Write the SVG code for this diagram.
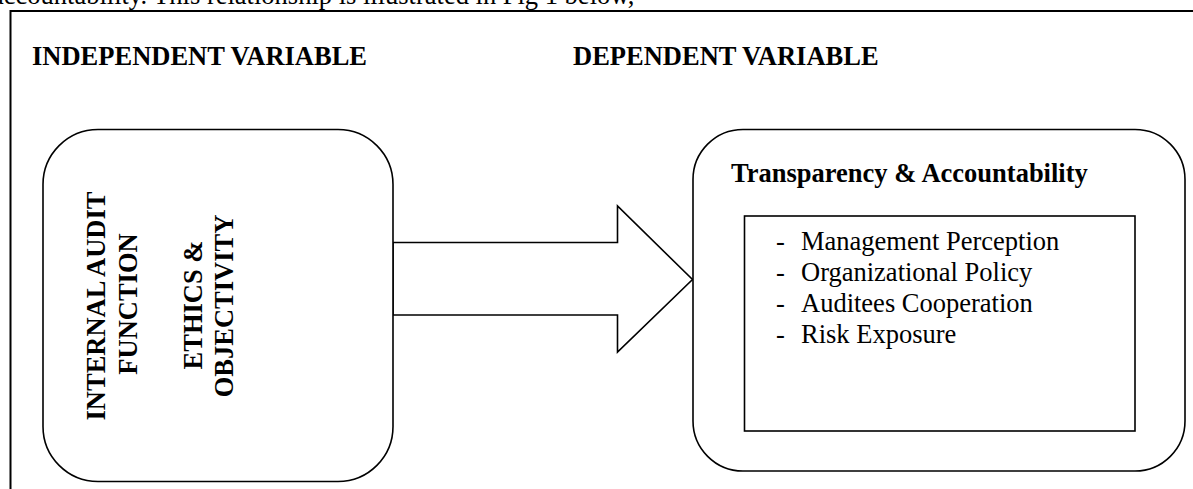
<svg xmlns="http://www.w3.org/2000/svg" width="1193" height="489" viewBox="0 0 1193 489">
<style>
  .t { font-family: "Liberation Serif", "Times New Roman", serif; font-size: 26.5px; fill: #000; }
  .b { font-weight: bold; }
  .box { fill: #fff; stroke: #000; stroke-width: 1.6; }
  .frame { fill: none; stroke: #000; stroke-width: 2; }
</style>
<rect width="1193" height="489" fill="#fff"/>
<text class="t" x="-8" y="3.5">accountability. This relationship is illustrated in Fig 1 below,</text>
<path class="frame" d="M10.5,489 V11 H1193"/>
<text class="t b" x="32" y="65">INDEPENDENT VARIABLE</text>
<text class="t b" x="573" y="65">DEPENDENT VARIABLE</text>
<g id="connectors">
  <path class="box" d="M393,242.5 H617.5 V206 L692.5,279.5 L617.5,352 V315 H393 Z"/>
</g>
<g id="independent">
  <rect class="box" x="43" y="129.5" width="350" height="352" rx="55" ry="55"/>
  <text class="t b" text-anchor="middle" transform="translate(105,306) rotate(-90)">INTERNAL AUDIT</text>
  <text class="t b" text-anchor="middle" transform="translate(137,304) rotate(-90)">FUNCTION</text>
  <text class="t b" text-anchor="middle" transform="translate(202,305) rotate(-90)">ETHICS &amp;</text>
  <text class="t b" text-anchor="middle" transform="translate(233,306) rotate(-90)">OBJECTIVITY</text>
</g>
<g id="dependent">
  <rect class="box" x="693" y="129.5" width="492" height="341.5" rx="50" ry="50"/>
  <text class="t b" x="731" y="181.5">Transparency &amp; Accountability</text>
  <rect class="box" x="744.5" y="216" width="390.5" height="215"/>
  <g class="t">
    <text x="776" y="249.5">-</text><text x="801" y="249.5">Management Perception</text>
    <text x="776" y="280.5">-</text><text x="801" y="280.5">Organizational Policy</text>
    <text x="776" y="311.5">-</text><text x="801" y="311.5">Auditees Cooperation</text>
    <text x="776" y="342.5">-</text><text x="801" y="342.5">Risk Exposure</text>
  </g>
</g>
</svg>
